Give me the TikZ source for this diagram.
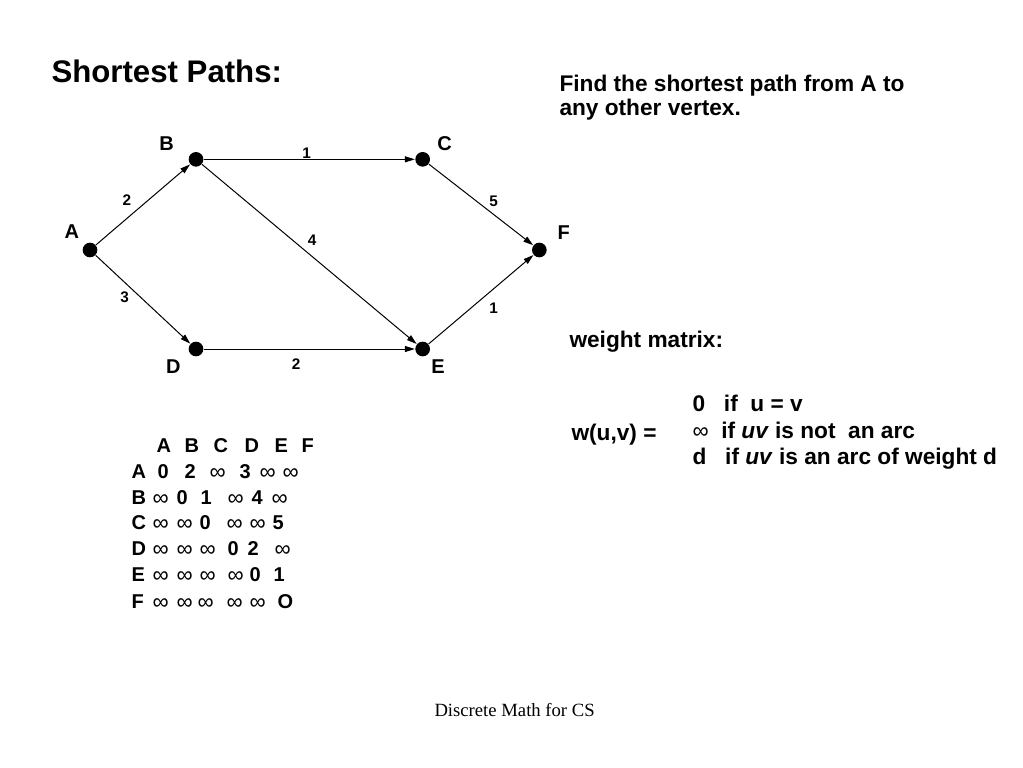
\documentclass[tikz,border=0pt]{standalone}
\usepackage{fontspec}
\setmainfont{Liberation Sans}
\newfontfamily\footfont{Liberation Serif}
\usetikzlibrary{arrows.meta,positioning}
\newcommand{\infsym}{{\mdseries\fontsize{17}{17}\selectfont\raisebox{-0.9pt}{∞}}}

\tikzset{
  dot/.style={circle,fill=black,inner sep=0pt,minimum size=11pt},
  vname/.style={font=\fontsize{15}{18}\selectfont\bfseries,inner sep=0pt},
  wt/.style={font=\fontsize{11.5}{13}\selectfont\bfseries},
  txt/.style={font=\fontsize{17}{17.5}\selectfont\bfseries,inner sep=0pt,anchor=base west,align=left},
  cell/.style={font=\fontsize{15}{18}\selectfont\bfseries,inner sep=0pt,anchor=base west}
}

\begin{document}
\begin{tikzpicture}[x=0.75pt,y=-0.75pt,>={Triangle[length=7.5pt,width=4.5pt]},auto,on grid,line width=0.75pt]
  \useasboundingbox (0,0) rectangle (1023,767);

  % title and notes
  \node[txt,font=\fontsize{23.4}{28}\selectfont\bfseries] (title) at (51,82) {Shortest Paths:};
  \node[txt] (task) at (559,115) {Find the shortest path from A to\\any other vertex.};

  % the graph
  \node[dot] (A) at (90,250) {};
  \node[dot] (B) [above right=68pt and 79.5pt of A] {};
  \node[dot] (C) [right=170pt of B] {};
  \node[dot] (D) [below right=74.25pt and 79.5pt of A] {};
  \node[dot] (E) [right=170pt of D] {};
  \node[dot] (F) [right=337pt of A] {};

  \node[vname] (lA) [above left=13.7pt and 13.7pt of A] {A};
  \node[vname] (lB) [above left=11.5pt and 22pt of B] {B};
  \node[vname] (lC) [above right=11.5pt and 16.5pt of C] {C};
  \node[vname] (lD) [below left=13.3pt and 17pt of D] {D};
  \node[vname] (lE) [below right=13.3pt and 11.5pt of E] {E};
  \node[vname] (lF) [above right=13pt and 18.2pt of F] {F};

  \path[->]
    (A) edge node[wt,pos=.427,inner sep=3.3pt] {2} (B)
    (A) edge node[wt,pos=.382,inner sep=1.8pt,swap] {3} (D)
    (B) edge node[wt,pos=.487,inner sep=0.2pt] {1} (C)
    (B) edge node[wt,pos=.474,inner sep=2.8pt] {4} (E)
    (C) edge node[wt,pos=.557,inner sep=1.5pt] {5} (F)
    (D) edge node[wt,pos=.437,inner sep=6.6pt,swap] {2} (E)
    (E) edge node[wt,pos=.524,inner sep=4.1pt,swap] {1} (F)
  ;

  % weight matrix
  \node[txt] (wm) at (569,347) {weight matrix:};
  \node[txt] (wdef) at (571,440) {w(u,v) =};
  \node[txt] (case0) at (692,411) {0~~ if~ u = v};
  \node[txt] (case1) at (692,438) {{\mdseries ∞}~ if \textit{uv} is not~ an arc};
  \node[txt] (case2) at (692,464) {d~~ if \textit{uv} is an arc of weight d};

  \foreach \y/\row [count=\r] in {
      452/{156/A,184/B,213/C,244/D,274/E,301/F},
      478/{131/A,157/0,184/2,209/\infsym,239/3,259/\infsym,282/\infsym},
      504/{131/B,152/\infsym,176/0,200/1,227/\infsym,251/4,271/\infsym},
      529/{131/C,152/\infsym,176/\infsym,199/0,226/\infsym,249/\infsym,272/5},
      555/{131/D,152/\infsym,176/\infsym,199/\infsym,227/0,247/2,274/\infsym},
      581/{131/E,152/\infsym,176/\infsym,199/\infsym,227/\infsym,249/0,273/1},
      608/{131/F,152/\infsym,176/\infsym,197/\infsym,226/\infsym,249/\infsym,277/O}}
    \foreach \x/\t [count=\c] in \row
      \node[cell] (m-\r-\c) at (\x,\y) {\t};

  \node[anchor=base west,inner sep=0pt,font=\fontsize{14}{16}\selectfont\footfont] (foot) at (434,716) {Discrete Math for CS};
\end{tikzpicture}
\end{document}
